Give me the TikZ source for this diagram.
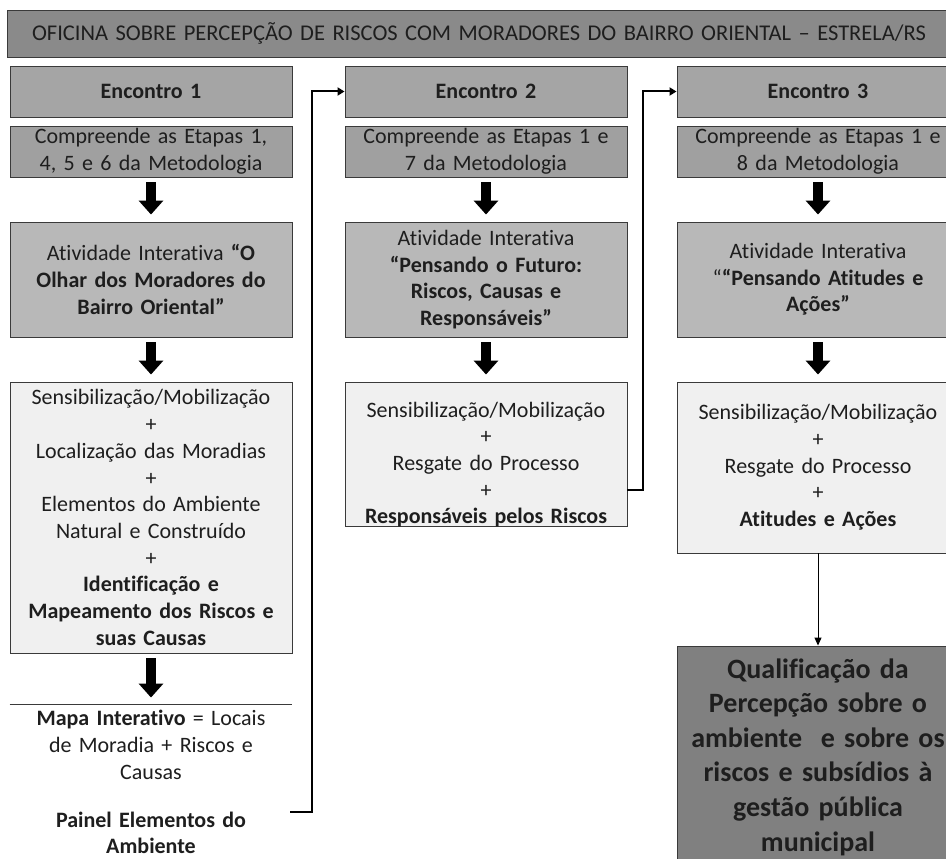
\documentclass[tikz,border=0pt]{standalone}
\usepackage{fontspec}
\setmainfont{Carlito}[Ligatures={NoCommon,NoRare,NoContextual}]
\usetikzlibrary{arrows.meta}
\definecolor{borda}{HTML}{3A3A3A}
\definecolor{tinta}{HTML}{1E1E1E}
\definecolor{cinzaTitulo}{HTML}{8A8A8A}
\definecolor{cinzaEnc}{HTML}{A5A5A5}
\definecolor{cinzaEtapa}{HTML}{A0A0A0}
\definecolor{cinzaAtiv}{HTML}{B8B8B8}
\definecolor{cinzaRes}{HTML}{F0F0F0}
\definecolor{cinzaFinal}{HTML}{808080}
\tikzset{
  caixa/.style={draw=borda, line width=0.9pt, inner sep=0pt, align=center,
    text width=270pt, minimum width=282pt, text=tinta,
    font=\fontsize{22}{26.7}\selectfont},
  titlebox/.style={caixa, fill=cinzaTitulo, text width=930pt, minimum width=944pt,
    minimum height=47pt, font=\fontsize{22.5}{26}\selectfont},
  encbox/.style={caixa, fill=cinzaEnc, minimum height=51pt,
    font=\fontsize{22}{26.7}\selectfont\bfseries},
  etapabox/.style={caixa, fill=cinzaEtapa, minimum height=51pt},
  ativbox/.style={caixa, fill=cinzaAtiv, minimum height=115pt},
  resbox/.style={caixa, fill=cinzaRes},
  finalbox/.style={caixa, fill=cinzaFinal, minimum height=222pt,
    font=\fontsize{28}{34.6}\selectfont\bfseries},
  solto/.style={caixa, draw=none},
  seta/.style={line width=10pt, -{Triangle[width=24pt,length=14pt]},
    shorten <=5pt, shorten >=7pt},
  liga/.style={line width=2pt, -{Triangle[width=8pt,length=7pt]}},
  fina/.style={line width=1pt, -{Triangle[width=7pt,length=8pt]}}
}
\begin{document}
\begin{tikzpicture}[x=1pt,y=-1pt]
\useasboundingbox (0,0) rectangle (946,859);
\clip (0,0) rectangle (946,859);

\node[titlebox] (titulo) at (479,33.5)
  {OFICINA SOBRE PERCEPÇÃO DE RISCOS COM MORADORES DO BAIRRO ORIENTAL -- ESTRELA/RS};

% encontros
\node[encbox] (enc1) at (151,91.5) {Encontro 1};
\node[encbox] (enc2) at (486,91.5) {Encontro 2};
\node[encbox] (enc3) at (818,91.5) {Encontro 3};

% etapas da metodologia
\node[etapabox] (etapa1) at (151,151.5) {Compreende as Etapas 1,\\ 4, 5 e 6 da Metodologia};
\node[etapabox] (etapa2) at (486,151.5) {Compreende as Etapas 1 e\\ 7 da Metodologia};
\node[etapabox] (etapa3) at (818,151.5) {Compreende as Etapas 1 e\\ 8 da Metodologia};

% atividades
\node[ativbox] (ativ1) at (151,279.5) {Atividade Interativa \textbf{“O}\\
  \textbf{Olhar dos Moradores do}\\ \textbf{Bairro Oriental”}};
\node[ativbox] (ativ2) at (486,279.5) {Atividade Interativa\\
  \textbf{“Pensando o Futuro:}\\ \textbf{Riscos, Causas e}\\ \textbf{Responsáveis”}};
\node[ativbox] (ativ3) at (818,279.5) {Atividade Interativa\\
  “\textbf{“Pensando Atitudes e}\\ \textbf{Ações”}};

% resultados
\node[resbox, minimum height=271pt] (res1) at (151,517.5) {Sensibilização/Mobilização\\ +\\
  Localização das Moradias\\ +\\ Elementos do Ambiente\\ Natural e Construído\\ +\\
  \textbf{Identificação e}\\ \textbf{Mapeamento dos Riscos e}\\ \textbf{suas Causas}};
\node[resbox, text height=35pt, text depth=109pt] (res2) at (486,454) {Sensibilização/Mobilização\\ +\\
  Resgate do Processo\\ +\\ \textbf{Responsáveis pelos Riscos}};
\node[resbox, minimum height=171pt] (res3) at (818,467.5) {Sensibilização/Mobilização\\ +\\
  Resgate do Processo\\ +\\ \textbf{Atitudes e Ações}};

\node[solto, minimum height=80pt] (mapa) at (151,745) {\textbf{Mapa Interativo} = Locais\\
  de Moradia + Riscos e\\ Causas};
\draw[borda, line width=0.9pt] (mapa.north west) -- (mapa.north east);
\node[solto, font=\fontsize{22}{26.7}\selectfont\bfseries] (painel) at (151,833)
  {Painel Elementos do\\ Ambiente};

\node[finalbox] (final) at (818,757) {Qualificação da\\ Percepção sobre o\\
  ambiente ~e sobre os\\ riscos e subsídios à\\ gestão pública\\ municipal};

% setas grossas
\foreach \a/\b in {etapa1/ativ1, ativ1/res1, res1/mapa,
                   etapa2/ativ2, ativ2/res2, etapa3/ativ3, ativ3/res3}
  \draw[seta] (\a) -- (\b);

% ligacoes entre encontros
\coordinate (fim1) at (290,812);
\draw[liga] (fim1) -- ++(22,0) |- (enc2.west);
\draw[liga] ([yshift=36pt]res2.south east) -- ++(16,0) |- (enc3.west);
\draw[fina] (res3) -- (final);
\end{tikzpicture}
\end{document}
